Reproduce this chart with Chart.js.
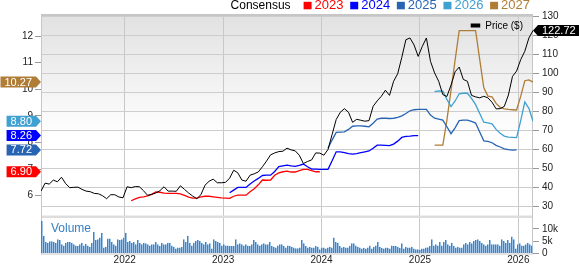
<!DOCTYPE html>
<html>
<head>
<meta charset="utf-8">
<script src="https://cdn.jsdelivr.net/npm/chart.js@4/dist/chart.umd.min.js"></script>
<style>
  html, body { margin: 0; padding: 0; background: #fff; }
  #wrap { position: relative; width: 579px; height: 264px; }
</style>
</head>
<body>
<div id="wrap"><canvas id="chart" width="579" height="264"></canvas></div>
<script>
// time window: half-month samples over five years (decimal years)
const START = 2021.149;
const STEP = 1 / 24;
const END = START + 5;

const years = [2022, 2023, 2024, 2025, 2026];
const priceTicks = [30, 40, 50, 60, 70, 80, 90, 100, 110, 120, 130];
const epsTicks = [6, 7, 8, 9, 10, 11, 12];
const volTicks = [0, 5, 10];

// closing price, one value per half month
const price = [
  38.2, 42.4, 41.9, 44.0, 43.1, 45.5, 42.2, 40.0, 40.2, 40.3, 39.1, 38.2,
  37.9, 37.0, 36.8, 35.8, 34.2, 36.3, 36.3, 35.1, 34.7, 40.5, 40.0, 40.6,
  40.5, 38.4, 36.0, 36.5, 37.2, 38.4, 40.5, 38.2, 38.2, 38.1, 41.0, 39.1,
  37.2, 35.6, 34.2, 36.3, 41.3, 43.4, 44.5, 42.6, 42.6, 42.8, 45.0, 49.2,
  47.8, 44.0, 43.4, 46.6, 47.3, 48.3, 51.0, 54.0, 57.3, 58.3, 59.0, 59.2,
  60.8, 59.9, 59.4, 57.1, 52.7, 53.8, 54.6, 58.3, 58.2, 57.1, 60.1, 68.0,
  75.9, 79.7, 81.6, 79.7, 74.4, 76.0, 75.5, 75.0, 75.3, 82.8, 85.7, 88.1,
  91.3, 88.6, 96.0, 100.0, 108.6, 117.9, 118.8, 115.1, 109.1, 114.4, 118.8, 106.5,
  100.4, 96.0, 89.0, 88.0, 94.0, 101.0, 103.5, 97.0, 96.0, 88.6, 87.8, 87.3,
  88.1, 87.3, 85.0, 81.5, 81.6, 82.8, 88.8, 98.6, 101.4, 107.4, 111.8, 118.8,
  122.72
];

// consensus EPS per fiscal year, same half-month grid, starting at the given sample
const eps2023From = 22;
const eps2023 = [
  5.81, 5.88, 5.94, 5.96, 5.99, 6.05, 6.14, 6.13, 6.10, 6.09, 6.09, 6.09,
  6.07, 6.01, 5.95, 5.91, 5.91, 5.96, 5.98, 5.98, 5.96, 5.94, 5.92, 5.91,
  5.90, 5.98, 6.02, 6.02, 6.02, 6.15, 6.26, 6.41, 6.59, 6.58, 6.59, 6.77,
  6.86, 6.90, 6.92, 6.89, 6.89, 6.94, 6.99, 6.99, 6.94, 6.90, 6.90
];
const eps2024From = 46;
const eps2024 = [
  6.11, 6.21, 6.31, 6.31, 6.31, 6.44, 6.55, 6.65, 6.76, 6.77, 6.77, 6.91,
  7.09, 7.12, 7.15, 7.12, 7.10, 7.14, 7.19, 7.09, 7.00, 7.00, 6.99, 6.99,
  6.99, 7.31, 7.65, 7.65, 7.62, 7.58, 7.56, 7.58, 7.62, 7.65, 7.68, 7.78,
  7.90, 7.90, 7.89, 7.88, 7.94, 8.05, 8.19, 8.23, 8.24, 8.26, 8.26
];
const eps2025From = 70;
const eps2025 = [
  7.78, 8.09, 8.38, 8.39, 8.40, 8.49, 8.61, 8.62, 8.62, 8.61, 8.59, 8.72,
  8.88, 8.91, 8.91, 8.90, 8.91, 8.94, 9.00, 9.09, 9.19, 9.23, 9.24, 9.24,
  9.24, 9.03, 8.91, 8.88, 8.84, 8.59, 8.33, 8.55, 8.82, 8.84, 8.84, 8.79,
  8.73, 8.39, 8.06, 8.04, 7.99, 7.89, 7.83, 7.76, 7.73, 7.71, 7.72
];
const eps2026From = 96;
const eps2026 = [
  9.91, 9.94, 9.93, 9.62, 9.35, 9.56, 9.83, 9.85, 9.85, 9.66, 9.42, 9.09,
  8.76, 8.74, 8.70, 8.49, 8.35, 8.24, 8.20, 8.19, 8.18, 8.82, 9.52, 9.28,
  8.80
];
const eps2027From = 96;
const eps2027 = [
  7.90, 7.90, 7.90, 8.84, 9.96, 11.09, 12.20, 12.20, 12.20, 12.20, 12.20, 11.12,
  10.05, 9.74, 9.71, 9.47, 9.32, 9.26, 9.24, 9.23, 9.22, 9.73, 10.32, 10.35,
  10.27
];

// volume in thousands, bars spread evenly over the window
const volume = [
  13.3, 7.2, 4.7, 4.4, 5.0, 5.0, 4.8, 4.4, 5.8, 5.5, 3.8, 3.3, 4.4, 4.7, 4.7, 4.4,
  3.8, 3.3, 3.1, 3.8, 4.4, 3.3, 3.9, 3.3, 2.8, 4.4, 8.8, 5.5, 5.8, 6.5, 8.5, 2.4,
  2.8, 6.1, 6.1, 4.7, 3.8, 3.3, 5.8, 5.5, 5.8, 6.5, 8.5, 4.7, 5.1, 4.4, 4.7, 3.8,
  5.5, 4.4, 3.8, 4.4, 4.2, 3.8, 3.3, 3.8, 3.8, 4.7, 3.8, 3.1, 4.4, 3.8, 3.8, 4.4,
  4.4, 3.3, 2.8, 2.0, 2.4, 2.4, 2.8, 5.8, 4.7, 7.2, 4.4, 3.3, 4.4, 5.1, 5.5, 5.1,
  4.4, 3.8,
  4.7, 3.8, 4.2, 2.0, 5.8, 5.1, 4.7, 4.4, 3.3, 3.8, 3.3, 3.3, 3.1, 3.1, 3.1, 5.8,
  3.8, 4.2, 3.8, 3.3, 3.8, 3.3, 3.1, 3.8, 5.5, 4.7, 3.8, 3.3, 3.8, 4.2, 3.8, 3.8,
  4.7, 3.1, 2.8, 2.4, 3.3, 3.8, 3.8, 3.1, 2.4, 3.3, 3.1, 2.8, 2.4, 2.1, 2.1, 2.4,
  5.5, 4.2, 3.1, 2.4, 2.8, 2.4, 2.4, 3.1, 2.8, 1.7, 2.4, 2.4, 2.0, 2.4, 2.8, 2.4,
  6.5, 4.7, 4.4, 3.1, 2.4, 2.8, 2.4, 2.4, 3.1, 4.2, 4.2, 3.3, 2.8, 2.4, 2.0, 2.3,
  2.0, 2.4, 3.3,
  2.0, 2.8, 3.3, 4.7, 2.8, 2.3, 2.0, 2.4, 2.3, 2.0, 3.3, 3.1, 3.1, 2.8, 2.3, 4.2,
  2.0, 2.8, 2.4, 2.4, 2.8, 2.0, 1.7, 1.7, 1.4, 2.0, 2.0, 2.4, 2.5, 3.1, 5.8, 3.3,
  3.8, 3.3, 4.7, 3.3, 4.7, 5.5, 3.8, 3.3, 4.4, 3.1, 2.4, 2.8, 2.4, 2.4, 3.8, 4.4,
  3.8, 4.7, 4.2, 5.1, 5.5, 5.8, 5.1, 4.4, 3.8, 3.3, 3.8, 5.5, 3.8, 3.8, 3.8, 3.8,
  3.3, 5.8, 5.1, 4.4, 5.5, 4.4, 6.9, 5.8, 2.0, 3.8, 4.2, 3.3, 3.3, 3.8, 4.4, 3.8,
  3.3
];

const FONT = '"Liberation Sans", Arial, sans-serif';
Chart.defaults.font.family = FONT;

const consensus = [
  { label: '2023', values: eps2023, from: eps2023From, color: '#ff0000' },
  { label: '2024', values: eps2024, from: eps2024From, color: '#0000ff' },
  { label: '2025', values: eps2025, from: eps2025From, color: '#2764b4' },
  { label: '2026', values: eps2026, from: eps2026From, color: '#3fa0d2' },
  { label: '2027', values: eps2027, from: eps2027From, color: '#b07d37' },
];

const toPoints = (values, from) => values.map((v, i) => ({ x: START + (from + i) * STEP, y: v }));
const VOL_STEP = (END - START) / volume.length;
const volPoints = volume.map((v, i) => ({ x: START + (i + 0.5) * VOL_STEP, y: v }));

function badge(ctx, text, tipX, y, pointsRight, color) {
  ctx.font = '11px ' + FONT;
  const w = ctx.measureText(text).width + 8;
  const h = 11, arrow = 5;
  const d = pointsRight ? -1 : 1;
  const rectNear = tipX + d * arrow;
  const rectFar = rectNear + d * w;
  ctx.beginPath();
  ctx.moveTo(tipX, y);
  ctx.lineTo(rectNear, y - h / 2);
  ctx.lineTo(rectFar, y - h / 2);
  ctx.lineTo(rectFar, y + h / 2);
  ctx.lineTo(rectNear, y + h / 2);
  ctx.closePath();
  ctx.fillStyle = color;
  ctx.fill();
  ctx.fillStyle = '#fff';
  ctx.textAlign = 'center';
  ctx.textBaseline = 'middle';
  ctx.fillText(text, (rectNear + rectFar) / 2, y + 0.5);
}

const panels = {
  id: 'panels',
  beforeDraw(chart) {
    const { ctx, chartArea: a } = chart;
    const p = chart.scales.price;
    ctx.save();
    const g = ctx.createLinearGradient(0, a.top, 0, p.bottom);
    g.addColorStop(0, '#e1e1e1');
    g.addColorStop(0.6, '#ffffff');
    ctx.fillStyle = g;
    ctx.fillRect(a.left, a.top, a.right - a.left, p.bottom - a.top);
    ctx.restore();
  },
  beforeDatasetsDraw(chart) {
    const { ctx, chartArea: a } = chart;
    const p = chart.scales.price;
    ctx.save();
    ctx.fillStyle = '#dddddd';
    ctx.fillRect(a.left, p.bottom - 0.5, a.right - a.left, 2.5);
    ctx.strokeStyle = '#c6c6c6';
    ctx.lineWidth = 1;
    ctx.strokeRect(a.left + 0.5, a.top + 0.5, a.right - a.left - 1, a.bottom - a.top);
    ctx.lineWidth = 2;
    ctx.beginPath();
    ctx.moveTo(a.left, a.top);
    ctx.lineTo(a.right, a.top);
    ctx.stroke();
    ctx.restore();
  },
  afterDraw(chart) {
    const { ctx, chartArea: a } = chart;
    const eps = chart.scales.eps, pr = chart.scales.price, vol = chart.scales.vol;
    ctx.save();

    // top legend
    ctx.textBaseline = 'middle';
    ctx.textAlign = 'left';
    ctx.font = '13px ' + FONT;
    const itemW = consensus.map(c => 8 + 3 + ctx.measureText(c.label).width);
    ctx.font = '12px ' + FONT;
    const headW = ctx.measureText('Consensus').width;
    const total = headW + 13 + itemW.reduce((s, w) => s + w, 0) + 6.7 * (consensus.length - 1);
    let x = a.right - 3 - total;
    const ly = 5.8;
    ctx.fillStyle = '#000';
    ctx.fillText('Consensus', x, ly);
    x += headW + 13;
    ctx.font = '13px ' + FONT;
    consensus.forEach((c, i) => {
      ctx.fillStyle = c.color;
      ctx.fillRect(x, 1.8, 8, 7.5);
      ctx.fillText(c.label, x + 11, ly);
      x += itemW[i] + 6.7;
    });

    // price legend inside the plot
    ctx.font = '10px ' + FONT;
    const pw = ctx.measureText('Price ($)').width;
    const px = a.right - 10 - pw;
    ctx.fillStyle = '#000';
    ctx.fillRect(px - 14.5, a.top + 8.5, 9.5, 4);
    ctx.fillText('Price ($)', px, a.top + 11);

    // volume caption
    ctx.font = '12px ' + FONT;
    ctx.fillStyle = '#3580c4';
    ctx.fillText('Volume', a.left + 10, vol.top + 13);

    // last-value badges
    consensus.forEach(c => {
      const v = c.values[c.values.length - 1];
      badge(ctx, v.toFixed(2), a.left, eps.getPixelForValue(v), true, c.color);
    });
    const last = price[price.length - 1];
    badge(ctx, last.toFixed(2), a.right, pr.getPixelForValue(last), false, '#000');
    ctx.restore();
  }
};

const tickFont = { size: 10, family: FONT };

new Chart(document.getElementById('chart'), {
  type: 'line',
  data: {
    datasets: [
      {
        label: 'Price ($)', data: toPoints(price, 0), yAxisID: 'price',
        borderColor: '#000', borderWidth: 1, pointRadius: 0, tension: 0, order: 0
      },
      ...consensus.map(c => ({
        label: c.label, data: toPoints(c.values, c.from), yAxisID: 'eps',
        borderColor: c.color, borderWidth: 1.3, pointRadius: 0, tension: 0, order: 1
      })),
      {
        type: 'bar', label: 'Volume', data: volPoints, yAxisID: 'vol',
        backgroundColor: '#9dc4e8', borderColor: '#3f83c5',
        borderWidth: { left: 1, top: 0, right: 0, bottom: 0 },
        categoryPercentage: 1, barPercentage: 1, inflateAmount: 0, order: 2
      }
    ]
  },
  options: {
    responsive: false,
    animation: false,
    devicePixelRatio: 1,
    layout: { padding: { top: 15, left: 0, right: 0, bottom: 0 } },
    plugins: { legend: { display: false }, tooltip: { enabled: false } },
    scales: {
      x: {
        type: 'linear', min: START, max: END, offset: false,
        afterBuildTicks: s => { s.ticks = years.map(v => ({ value: v })); },
        afterFit: s => { s.height = 10.5; },
        ticks: { autoSkip: false, maxRotation: 0, padding: 1, color: '#222', font: tickFont, callback: v => String(v) },
        grid: { color: '#c8c8c8', drawTicks: false, offset: false },
        border: { display: false }
      },
      eps: {
        type: 'linear', position: 'left', min: 3.829, max: 12.789,
        afterBuildTicks: s => { s.ticks = epsTicks.map(v => ({ value: v })); },
        afterFit: s => { s.width = 41; },
        ticks: { autoSkip: false, padding: 2, color: '#222', font: tickFont },
        grid: { drawOnChartArea: false, tickLength: 6, color: '#999', tickColor: '#999' },
        border: { display: false }
      },
      price: {
        type: 'linear', position: 'right', stack: 'right', stackWeight: 201,
        min: 25.1, max: 130.9,
        afterBuildTicks: s => { s.ticks = priceTicks.map(v => ({ value: v })); },
        afterFit: s => { s.width = 46; },
        ticks: { autoSkip: false, padding: 3, color: '#222', font: tickFont },
        grid: { color: '#cdcdcd', tickLength: 6, tickColor: '#999' },
        border: { display: false }
      },
      vol: {
        type: 'linear', position: 'right', stack: 'right', stackWeight: 37.5,
        min: 0, max: 15.3,
        afterBuildTicks: s => { s.ticks = volTicks.map(v => ({ value: v })); },
        afterFit: s => { s.width = 46; },
        ticks: { autoSkip: false, padding: 3, color: '#222', font: tickFont, callback: v => (v === 0 ? '0' : v + 'k') },
        grid: { drawOnChartArea: false, tickLength: 6, color: '#999', tickColor: '#999' },
        border: { display: false }
      }
    }
  },
  plugins: [panels]
});
</script>
</body>
</html>
